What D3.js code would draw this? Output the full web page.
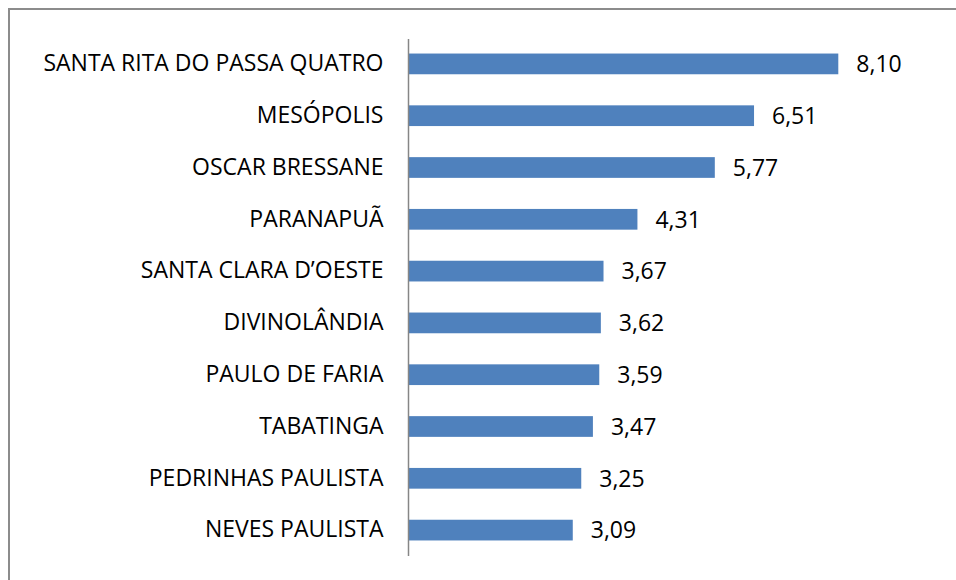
<!DOCTYPE html>
<html>
<head>
<meta charset="utf-8">
<script src="https://cdn.jsdelivr.net/npm/d3@7"></script>
<style>
  body { margin: 0; background: #fff; }
  svg { display: block; }
</style>
</head>
<body>
<svg width="956" height="580"></svg>
<script>
// municipalities, top to bottom
let cities = [
  "SANTA RITA DO PASSA QUATRO",
  "MESÓPOLIS",
  "OSCAR BRESSANE",
  "PARANAPUÃ",
  "SANTA CLARA D\u2019OESTE",
  "DIVINOLÂNDIA",
  "PAULO DE FARIA",
  "TABATINGA",
  "PEDRINHAS PAULISTA",
  "NEVES PAULISTA"
];

// values
let values = [8.10, 6.51, 5.77, 4.31, 3.67, 3.62, 3.59, 3.47, 3.25, 3.09];

let data = cities.map((c, i) => ({ city: c, value: values[i] }));

// pt-BR number format, comma as decimal mark
let br = d3.formatLocale({ decimal: ",", thousands: ".", grouping: [3], currency: ["R$", ""] });
let fmt = br.format(".2f");

let axisX = 409,
  plotTop = 38,
  plotBottom = 556,
  fontFam = "'Open Sans', sans-serif",
  fontSize = "23px";

let svg = d3.select("svg");

// outer frame (only left and top edges fall inside the picture)
svg.append("rect")
  .attr("x", 9)
  .attr("y", 9)
  .attr("width", 960)
  .attr("height", 600)
  .attr("fill", "none")
  .attr("stroke", "#8c8c8c")
  .attr("stroke-width", 2);

let xScale = d3.scaleLinear()
  .domain([0, 10])
  .range([axisX, axisX + 530]);

let yScale = d3.scaleBand()
  .domain(cities)
  .range([plotTop, plotBottom])
  .paddingInner(0.6)
  .paddingOuter(0.3);

// bars
svg.selectAll("rect.bar")
  .data(data)
  .enter()
  .append("rect")
  .attr("class", "bar")
  .attr("fill", "#4f81bd")
  .attr("x", xScale(0))
  .attr("y", d => yScale(d.city))
  .attr("width", d => xScale(d.value) - xScale(0))
  .attr("height", yScale.bandwidth());

// value labels
svg.selectAll("text.val")
  .data(data)
  .enter()
  .append("text")
  .attr("class", "val")
  .attr("x", d => xScale(d.value) + 18)
  .attr("y", d => yScale(d.city) + yScale.bandwidth() / 2)
  .attr("dy", "0.36em")
  .style("font-family", fontFam)
  .style("font-size", fontSize)
  .attr("fill", "#000")
  .text(d => fmt(d.value));

// category axis
let y_axis = d3.axisLeft(yScale)
  .tickSize(0)
  .tickPadding(25);

let g = svg.append("g")
  .attr("transform", "translate(" + (axisX - 0.5) + ",0)")
  .call(y_axis);

g.select(".domain")
  .attr("stroke", "#868686")
  .attr("stroke-width", 1.5)
  .attr("d", "M0," + (plotTop + 1) + "V" + plotBottom);

g.selectAll("text")
  .style("font-family", fontFam)
  .style("font-size", fontSize)
  .attr("fill", "#000");
</script>
</body>
</html>
